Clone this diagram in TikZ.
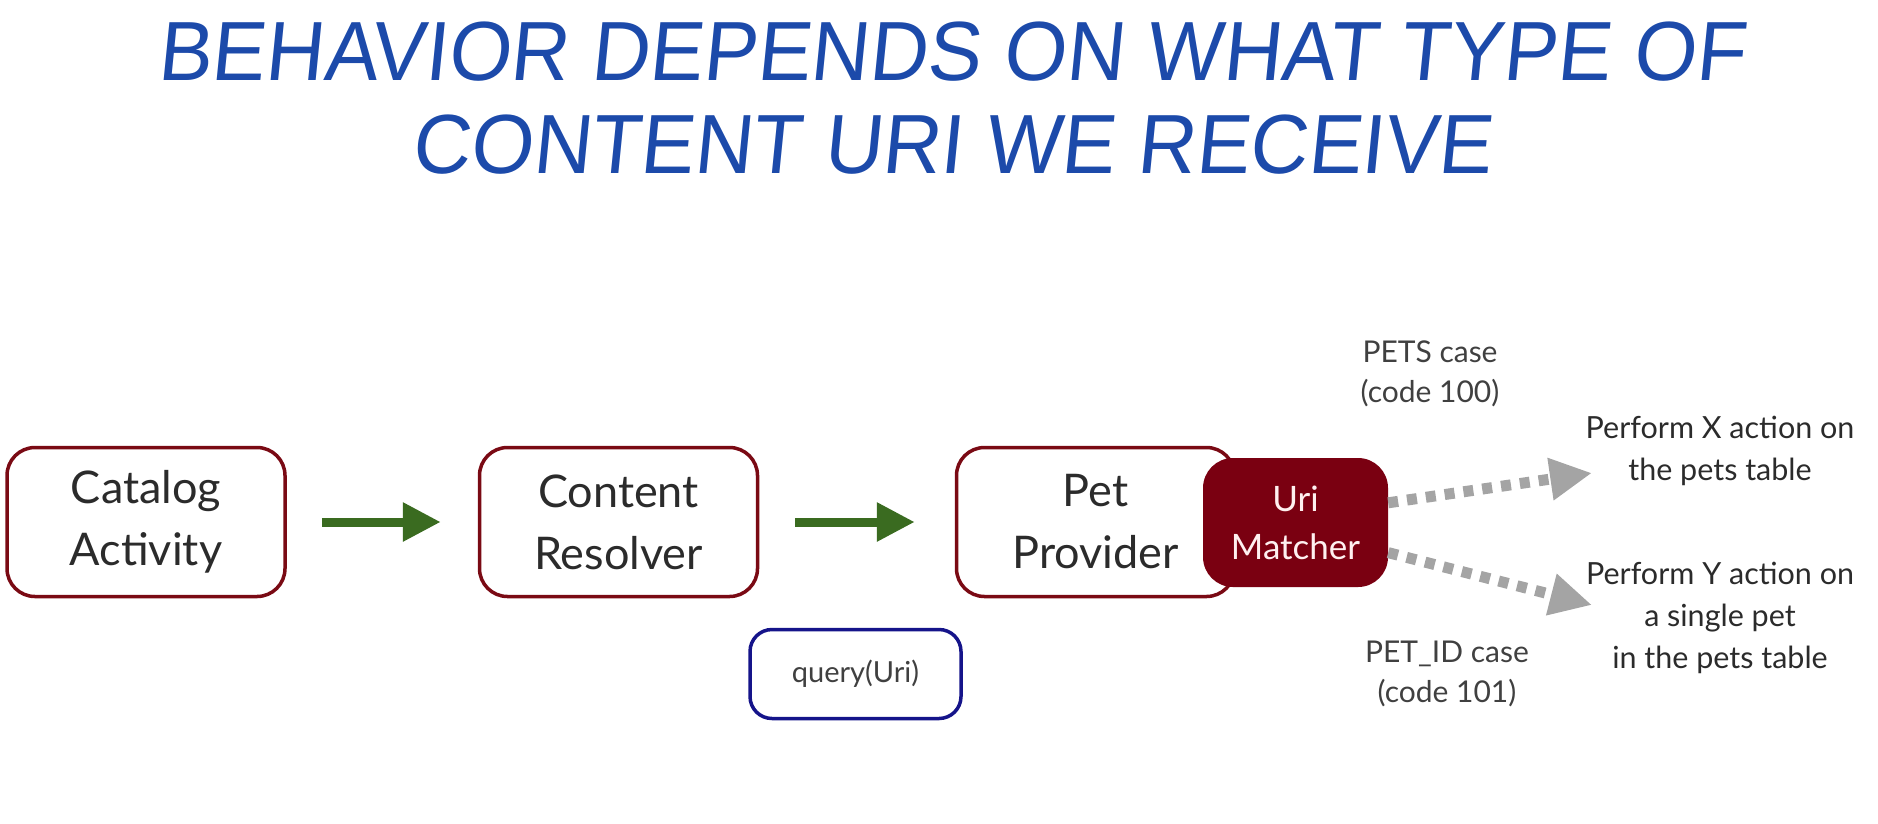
\documentclass[tikz,border=0pt]{standalone}
\usepackage{fontspec}
\setmainfont{Lato}
\newfontfamily\titlefont[FakeSlant=0.1,FakeStretch=0.96]{Liberation Sans}
\usetikzlibrary{arrows.meta, positioning}

\definecolor{boxred}{HTML}{7A0A14}
\definecolor{matcherred}{HTML}{7A0011}
\definecolor{querynavy}{HTML}{15148A}
\definecolor{arrowgreen}{HTML}{3A6B20}
\definecolor{dotgray}{HTML}{A4A4A4}
\definecolor{titleblue}{HTML}{1C4AAA}
\definecolor{labelgray}{HTML}{2B2B2B}

\begin{document}
\begin{tikzpicture}[x=1pt, y=-1pt,
    compbox/.style={draw=boxred, line width=3.5pt, rounded corners=28pt, minimum width=278pt, minimum height=149pt, align=center, text=labelgray, font=\fontsize{45}{62}\selectfont},
    matcherbox/.style={fill=matcherred, rounded corners=30pt, minimum width=185pt, minimum height=129pt, align=center, text=white!94!red, font=\fontsize{35}{48}\selectfont},
    querybox/.style={draw=querynavy, line width=3.5pt, rounded corners=22pt, minimum width=211pt, minimum height=89pt, text=labelgray!90!white, font=\fontsize{29}{36}\selectfont},
    caselabel/.style={align=center, text=labelgray!90!white, font=\fontsize{30}{40}\selectfont},
    actionlabel/.style={align=center, text=labelgray, font=\fontsize{30.5}{42}\selectfont},
    greenarrow/.style={line width=9pt, arrowgreen, -{Triangle[length=38pt, width=37pt]}},
    dotarrow/.style={line width=11pt, dotgray, dash pattern=on 10pt off 9pt, -{Triangle[length=42pt, width=40pt]}}]
  \useasboundingbox (0,0) rectangle (1878,823);

  \node[font=\titlefont\fontsize{84}{93}\selectfont, text=titleblue, align=center] (title) at (951,98) {BEHAVIOR DEPENDS ON WHAT TYPE OF\\CONTENT URI WE RECEIVE};

  % components
  \node[compbox] (catalog) at (146,522) {Catalog\\Activity};
  \node[compbox] (resolver) at (618.5,522) {Content\\Resolver};
  \node[compbox] (provider) at (1095.5,522) {Pet\\Provider};
  \node[matcherbox] (matcher) at (1295.5,522.5) {Uri\\Matcher};
  \node[querybox] (query) at (855.5,674) {query(Uri)};

  \draw[greenarrow, shorten <=35pt, shorten >=37pt] (catalog.east) -- (resolver.west);
  \draw[greenarrow, shorten <=36pt, shorten >=40pt] (resolver.east) -- (provider.west);

  % matcher cases
  \coordinate (xend) at (1592,473);
  \coordinate (yend) at (1592,605);
  \draw[dotarrow] (matcher.12) -- (xend);
  \draw[dotarrow] (matcher.-18) -- (yend);

  \node[caselabel] (petscase) at (1430,374) {PETS case\\(code 100)};
  \node[caselabel] (petidcase) at (1447,674) {PET\_ID case\\(code 101)};
  \node[actionlabel] (xaction) at (1720,451) {Perform X action on\\the pets table};
  \node[actionlabel] (yaction) at (1720,618) {Perform Y action on\\a single pet\\in the pets table};
\end{tikzpicture}
\end{document}
